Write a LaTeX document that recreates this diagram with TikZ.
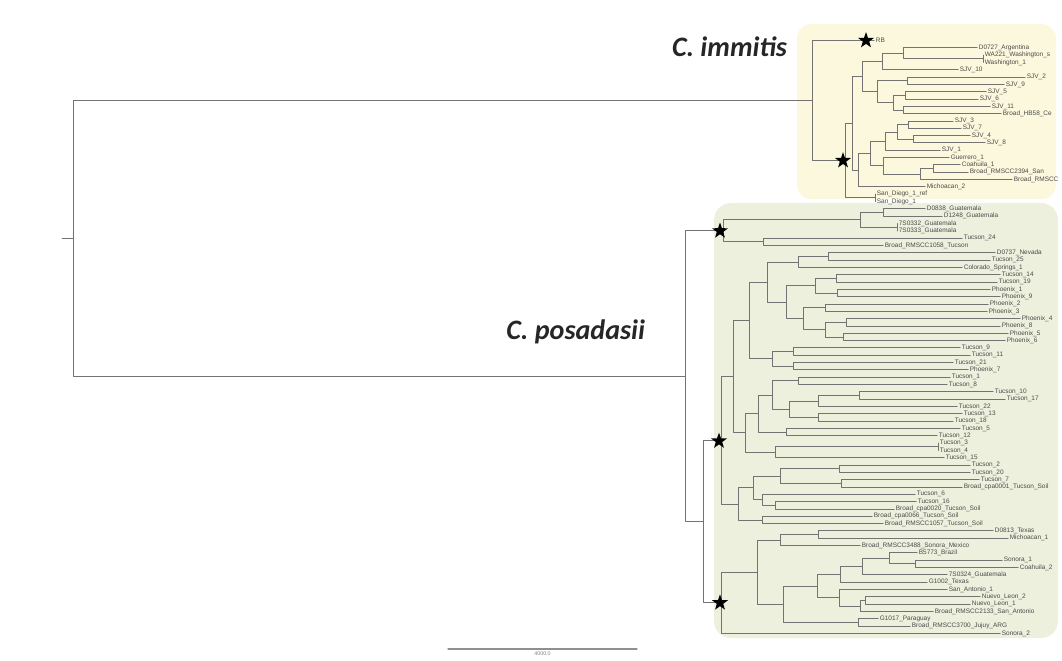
\documentclass[tikz,border=0pt]{standalone}
\usepackage{fontspec}
\setmainfont{Liberation Sans}
\newfontfamily\cladefam{Carlito}
\usetikzlibrary{shapes.geometric}
\definecolor{immfill}{RGB}{251,248,221}
\definecolor{posfill}{RGB}{237,240,221}
\definecolor{brgray}{RGB}{115,115,115}
\definecolor{txtgray}{RGB}{75,75,75}
\begin{document}
\begin{tikzpicture}[x=0.025cm, y=-0.025cm, line join=round, line cap=round,
  branch/.style={draw=brgray, line width=0.7pt},
  leaf/.style={anchor=west, inner sep=1.1pt, text=txtgray, font=\fontsize{4.6}{5}\selectfont},
  clade/.style={font=\cladefam\bfseries\itshape\fontsize{20}{24}\selectfont, text=black!85},
  bstar/.style={star, star points=5, star point ratio=2.5, fill=black, inner sep=0pt, minimum size=0.42cm}]
\useasboundingbox (0,0) rectangle (1062,660);
\clip (0,0) rectangle (1062,660);
% clade boxes
\fill[immfill, rounded corners=10pt] (797,24) rectangle (1056,199);
\fill[posfill, rounded corners=12pt] (714,203) rectangle (1058,638);
% tips, one row per taxon
\foreach \i/\x/\t in {0/874/RB, 1/977/D0727\_Argentina, 2/983/WA221\_Washington\_s, 3/983/Washington\_1,
    4/958/SJV\_10, 5/1025/SJV\_2, 6/1004/SJV\_9, 7/986/SJV\_5, 8/978/SJV\_6, 9/990/SJV\_11,
    10/1001/Broad\_HB58\_Ce, 11/953/SJV\_3, 12/961/SJV\_7, 13/970/SJV\_4, 14/985/SJV\_8, 15/940/SJV\_1,
    16/949/Guerrero\_1, 17/960/Coahuila\_1, 18/968/Broad\_RMSCC2394\_San, 19/1012/Broad\_RMSCC,
    20/925/Michoacan\_2, 21/875/San\_Diego\_1\_ref, 22/875/San\_Diego\_1,
    23/925/D0838\_Guatemala, 24/942/D1248\_Guatemala, 25/897/7S0332\_Guatemala, 26/897/7S0333\_Guatemala,
    27/962/Tucson\_24, 28/883/Broad\_RMSCC1058\_Tucson, 29/995/D0737\_Nevada, 30/990/Tucson\_25,
    31/962/Colorado\_Springs\_1, 32/1000/Tucson\_14, 33/997/Tucson\_19, 34/990/Phoenix\_1, 35/1000/Phoenix\_9,
    36/988/Phoenix\_2, 37/987/Phoenix\_3, 38/1020/Phoenix\_4, 39/1000/Phoenix\_8, 40/1008/Phoenix\_5,
    41/1005/Phoenix\_6, 42/960/Tucson\_9, 43/970/Tucson\_11, 44/953/Tucson\_21, 45/968/Phoenix\_7,
    46/950/Tucson\_1, 47/947/Tucson\_8, 48/993/Tucson\_10, 49/1005/Tucson\_17, 50/957/Tucson\_22,
    51/962/Tucson\_13, 52/953/Tucson\_18, 53/960/Tucson\_5, 54/937/Tucson\_12, 55/938/Tucson\_3,
    56/938/Tucson\_4, 57/944/Tucson\_15, 58/970/Tucson\_2, 59/970/Tucson\_20, 60/979/Tucson\_7,
    61/962/Broad\_cpa0001\_Tucson\_Soil, 62/915/Tucson\_6, 63/916/Tucson\_16, 64/894/Broad\_cpa0020\_Tucson\_Soil,
    65/872/Broad\_cpa0066\_Tucson\_Soil, 66/883/Broad\_RMSCC1057\_Tucson\_Soil, 67/993/D0813\_Texas,
    68/1008/Michoacan\_1, 69/860/Broad\_RMSCC3488\_Sonora\_Mexico, 70/917/B5773\_Brazil, 71/1002/Sonora\_1,
    72/1018/Coahuila\_2, 73/947/7S0324\_Guatemala, 74/927/G1002\_Texas, 75/947/San\_Antonio\_1,
    76/980/Nuevo\_Leon\_2, 77/970/Nuevo\_Leon\_1, 78/933/Broad\_RMSCC2133\_San\_Antonio,
    79/878/G1017\_Paraguay, 80/910/Broad\_RMSCC3700\_Jujuy\_ARG, 81/1000/Sonora\_2}
  \node[leaf] (l\i) at (\x,{40.5+7.32*\i}) {\t};
% internal nodes
\coordinate (stub) at (62,238.4); \coordinate (root) at (73,238.4);
\coordinate (ci) at (812,100.5); \coordinate (cp) at (685,376.2);
% C. immitis
\coordinate (S) at (845,160.6); \coordinate (SD) at (875,197.9); \coordinate (A) at (852,123.4);
\coordinate (C) at (862,76.6); \coordinate (B) at (882,61.5); \coordinate (N) at (903,53.3);
\coordinate (P) at (983,58.8); \coordinate (E) at (877,91.8); \coordinate (Q) at (907,80.8);
\coordinate (F) at (893,102.7); \coordinate (T) at (905,95.4); \coordinate (U) at (903,110);
\coordinate (G) at (858,170.2); \coordinate (H) at (870,153.5); \coordinate (I) at (885,141.2);
\coordinate (K) at (897,132); \coordinate (K1) at (908,124.7); \coordinate (K2) at (913,139.3);
\coordinate (J) at (883,165.9); \coordinate (L) at (920,174.1); \coordinate (M) at (933,168.6);
% C. posadasii
\coordinate (V) at (723,230.9); \coordinate (X) at (860,219.9); \coordinate (Y) at (883,212.6);
\coordinate (Z) at (897,227.2); \coordinate (TP) at (763,241.8); \coordinate (W) at (703,521.5);
\coordinate (AA) at (721,440.3); \coordinate (BB) at (721,602.8); \coordinate (CC) at (733,376.7);
\coordinate (FF) at (749,320.5); \coordinate (HH) at (767,282.1); \coordinate (JJ) at (798,262.0);
\coordinate (LL) at (828,256.5); \coordinate (KK) at (786,302.3); \coordinate (MM) at (815,285.8);
\coordinate (M1) at (836,278.5); \coordinate (M2) at (837,293.1); \coordinate (NN) at (803,318.7);
\coordinate (OO) at (825,307.7); \coordinate (PP) at (825,329.7); \coordinate (QQ) at (846,322.4);
\coordinate (RR) at (843,337.0); \coordinate (II) at (772,358.9); \coordinate (SS) at (793,351.6);
\coordinate (TT) at (793,366.3); \coordinate (GG) at (745,432.9); \coordinate (UU) at (758,413.6);
\coordinate (XX) at (772,395.0); \coordinate (ZZ) at (798,380.9); \coordinate (AB) at (789,409.2);
\coordinate (AC) at (818,401.0); \coordinate (AE) at (859,395.5); \coordinate (AD) at (818,417.5);
\coordinate (YY) at (786,432.2); \coordinate (VV) at (775,452.2); \coordinate (WW) at (938,446.8);
\coordinate (DD) at (738,504.0); \coordinate (AF) at (753,487.9); \coordinate (AH) at (780,476.0);
\coordinate (AH1) at (839,468.7); \coordinate (AH2) at (841,483.4); \coordinate (AI) at (762,499.8);
\coordinate (AJ) at (775,505.3); \coordinate (AG) at (762,520.0); \coordinate (EE) at (757,572.2);
\coordinate (AK) at (780,540.1); \coordinate (AM) at (818,534.6); \coordinate (AL) at (783,604.3);
\coordinate (AN) at (817,586.1); \coordinate (AP) at (840,574.4); \coordinate (AR) at (862,566.6);
\coordinate (AS) at (889,558.4); \coordinate (AT) at (915,563.9); \coordinate (AQ) at (839,597.8);
\coordinate (AU) at (860,606); \coordinate (AV) at (865,600.5); \coordinate (AO) at (858,622.5);
% branches
\draw[branch] (stub) -- (root);
\foreach \p/\c in {root/ci, root/cp, ci/l0, ci/S, S/A, S/SD, SD/l21, SD/l22, A/C, A/G, C/B, C/E,
    B/N, B/l4, N/l1, N/P, P/l2, P/l3, E/Q, E/F, Q/l5, Q/l6, F/T, F/U, T/l7, T/l8, U/l9, U/l10,
    G/H, G/l20, H/I, H/J, I/K, I/l15, K/K1, K/K2, K1/l11, K1/l12, K2/l13, K2/l14,
    J/l16, J/L, L/M, L/l19, M/l17, M/l18}
  \draw[branch] (\p) |- (\c);
\foreach \p/\c in {cp/V, cp/W, V/X, V/TP, X/Y, X/Z, Y/l23, Y/l24, Z/l25, Z/l26, TP/l27, TP/l28,
    W/AA, W/BB, AA/CC, AA/DD, CC/FF, CC/GG, FF/HH, FF/II, HH/JJ, HH/KK, JJ/LL, JJ/l31, LL/l29, LL/l30,
    KK/MM, KK/NN, MM/M1, MM/M2, M1/l32, M1/l33, M2/l34, M2/l35, NN/OO, NN/PP, OO/l36, OO/l37,
    PP/QQ, PP/RR, QQ/l38, QQ/l39, RR/l40, RR/l41, II/SS, II/TT, SS/l42, SS/l43, TT/l44, TT/l45,
    GG/UU, GG/VV, UU/XX, UU/YY, XX/ZZ, XX/AB, ZZ/l46, ZZ/l47, AB/AC, AB/AD, AC/AE, AC/l50,
    AE/l48, AE/l49, AD/l51, AD/l52, YY/l53, YY/l54, VV/WW, VV/l57, WW/l55, WW/l56,
    DD/AF, DD/AG, AF/AH, AF/AI, AH/AH1, AH/AH2, AH1/l58, AH1/l59, AH2/l60, AH2/l61,
    AI/l62, AI/AJ, AJ/l63, AJ/l64, AG/l65, AG/l66, BB/EE, BB/l81, EE/AK, EE/AL, AK/AM, AK/l69,
    AM/l67, AM/l68, AL/AN, AL/AO, AO/l79, AO/l80, AN/AP, AN/AQ, AP/AR, AP/l74, AR/AS, AR/l73,
    AS/l70, AS/AT, AT/l71, AT/l72, AQ/l75, AQ/AU, AU/AV, AU/l78, AV/l76, AV/l77}
  \draw[branch] (\p) |- (\c);
% supported nodes
\node[bstar] (starRB) at (866,40.5) {};
\node[bstar] (starS) at (843,160.6) {};
\node[bstar] (starV) at (720,230.9) {};
\node[bstar] (starAA) at (719,441) {};
\node[bstar] (starBB) at (720,602.8) {};
% species
\node[clade, anchor=east] (immitis) at (792,47) {C. immitis};
\node[clade, anchor=east] (posadasii) at (650,332) {C. posadasii};
% scale bar
\coordinate (sb1) at (448,649); \coordinate (sb2) at (637,649);
\draw[draw=brgray!80, line width=0.9pt] (sb1) -- (sb2) node[midway, below=1.5pt, inner sep=0pt, text=gray, font=\fontsize{3.8}{4}\selectfont] (sbl) {4000.0};
\end{tikzpicture}
\end{document}
